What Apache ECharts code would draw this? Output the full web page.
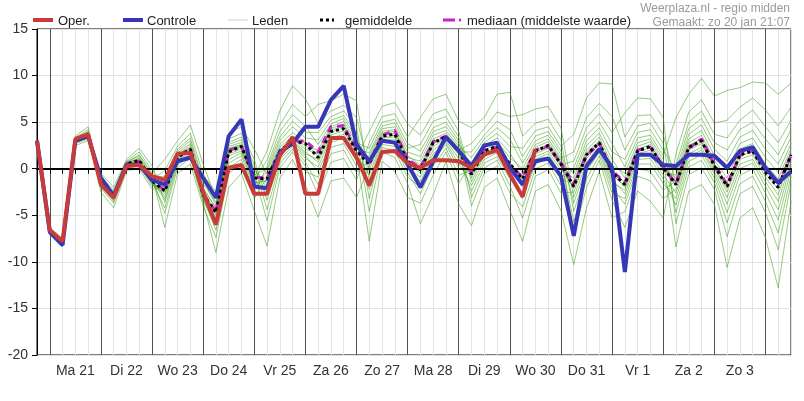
<!DOCTYPE html>
<html><head><meta charset="utf-8">
<script src="https://cdn.jsdelivr.net/npm/echarts@6/dist/echarts.min.js"></script>
<style>html,body{margin:0;padding:0;background:#fff}#c{width:804px;height:401px}</style>
</head><body><div id="c"></div>
<script>
// Day labels (placed at 12:00 of each day)
const dayLabels = ['Ma 21','Di 22','Wo 23','Do 24','Vr 25','Za 26','Zo 27','Ma 28','Di 29','Wo 30','Do 31','Vr 1','Za 2','Zo 3','Ma 4'];
const hourSteps = ['00:00','06:00','12:00','18:00'];
const firstStep = 'Zo 20 18:00';
const nSteps = 60;

// Operationele run (tot Wo 30 12:00)
const oper = [3.0,-6.6,-7.8,3.2,3.7, -1.7,-3.1,0.3,0.4,-0.8, -1.2,1.6,1.7,-2.5, -6.0,0.1,0.4,-2.7, -2.7,1.4,3.4,-2.7, -2.7,3.3,3.3,1.2, -1.8,1.8,1.9,0.6, 0.1,0.9,0.9,0.8, 0.1,1.5,2.0,-0.6, -3.0,2.1];
// Controle run
const controle = [3.0,-6.8,-8.2,3.0,3.5, -1.0,-2.9,0.4,0.4,-1.2, -1.7,0.8,1.2,-1.0, -3.1,3.5,5.3,-1.9, -2.1,1.8,2.7,4.5, 4.5,7.4,8.9,2.6, 0.8,3.0,2.8,0.5, -2.0,0.8,3.4,1.9, 0.3,2.5,2.8,0.1, -1.7,0.8,1.1,-0.8, -7.2,0.3,2.1,0.1, -11.1,1.5,1.5,0.4, 0.3,1.5,1.5,1.4,0.1,1.9,2.3,0.1,-1.5,-0.3];
// Gemiddelde
const gemiddelde = [3.0,-6.7,-7.9,3.0,3.6, -1.5,-3.0,0.5,0.9,-1.3, -2.4,1.2,2.1,-2.8, -4.7,1.8,2.4,-1.0, -1.1,1.9,3.0,2.7, 1.2,4.0,4.3,1.9, 0.5,3.5,3.7,0.8, -0.1,2.8,3.4,1.9, -0.6,1.9,2.4,0.5, -1.1,1.9,2.5,0.5, -1.9,1.5,2.8,-0.4, -1.7,1.9,2.4,0.1, -1.7,2.3,3.0,0.3,-1.9,1.5,1.9,-0.4,-2.0,1.5];
// Mediaan
const mediaan = [3.0,-6.7,-7.9,3.0,3.6, -1.5,-3.0,0.5,0.8,-1.3, -2.3,1.3,2.2,-2.7, -4.6,2.0,2.4,-0.9, -1.0,1.8,2.9,3.0, 1.8,4.5,4.6,2.1, 0.6,3.6,4.1,1.0, 0.1,2.9,3.5,2.0, -0.4,2.0,2.3,0.4, -0.9,2.0,2.4,0.6, -1.6,1.4,2.7,-0.2, -1.5,2.0,2.3,0.2, -1.6,2.2,3.2,0.5,-1.7,1.4,2.0,-0.2,-1.7,1.4];

// Ensemble leden
const lid01 = [2.9,-7.0,-8.4,2.5,3.0, -1.5,-3.0,0.5,0.9,-1.3, -3.0,1.0,1.9,-3.0, -5.6,1.0,1.7,-1.8, -0.3,3.0,4.5,3.3, 3.1,5.2,5.7,3.8, -2.2,2.6,2.4,-0.4, -2.7,0.3,2.2,-0.7, -0.1,2.2,2.9,1.2, 0.0,2.6,3.2,1.1, 1.8,5.5,7.0,5.6, 2.0,4.6,4.9,2.7, -4.7,0.2,0.9,-1.5,-5.8,-1.6,-0.8,-3.5,-6.9,-0.8];
const lid02 = [2.9,-6.9,-8.2,2.7,3.2, -1.8,-3.4,0.3,0.6,-1.6, -1.2,1.9,3.0,-1.6, -3.6,2.8,3.4,0.5, -4.4,0.6,2.1,0.3, -2.8,0.7,1.1,-1.2, 2.8,5.6,5.9,3.4, 5.5,7.5,8.0,5.1, 4.4,5.5,8.0,8.2, 3.5,4.9,5.3,3.1, -4.6,-0.3,1.8,-2.0, -3.8,0.0,-0.3,-2.3, -1.3,2.8,3.6,0.9,-1.0,2.1,2.7,0.5,-1.1,2.2];
const lid03 = [3.0,-6.8,-8.1,2.8,3.3, -1.2,-2.6,0.7,1.4,-0.7, -6.3,-0.5,0.5,-4.0, -7.4,-0.5,0.6,-3.2, -1.0,2.0,3.2,2.1, 1.6,4.3,4.8,2.4, 1.1,4.0,4.2,1.4, 0.4,3.2,3.8,2.2, -4.0,-0.5,0.3,-2.6, -4.1,0.0,0.6,-1.8, 0.1,3.6,5.0,2.7, 0.2,3.3,3.6,1.4, 5.5,8.0,9.7,7.8,8.4,8.7,9.3,9.2,8.0,9.2];
const lid04 = [3.0,-6.8,-8.1,2.8,3.4, -2.5,-4.2,-0.2,0.0,-2.2, -2.1,1.4,2.3,-2.5, -4.6,2.0,2.4,-0.9, 1.9,6.2,8.9,7.5, 4.9,6.2,6.8,5.5, -0.1,3.3,3.4,0.5, -0.2,2.7,3.3,1.8, 1.8,3.6,5.1,4.2, 1.3,3.5,4.0,1.9, -3.7,0.2,2.1,-1.5, -2.3,1.3,1.6,-0.7, -2.6,1.6,2.3,-0.3,-3.1,0.5,1.0,-1.4,-3.5,0.8];
const lid05 = [3.0,-6.8,-8.0,2.9,3.5, -1.4,-2.9,0.5,1.0,-1.2, -0.2,2.4,3.8,-0.6, -2.5,3.8,4.5,2.1, -0.6,2.6,3.9,2.8, 1.3,4.1,4.6,2.1, 1.7,4.6,4.9,2.2, 2.6,5.1,5.6,3.4, -1.4,1.4,1.9,-0.2, -1.6,1.6,2.2,0.2, -2.1,1.4,2.7,-0.5, -2.0,1.6,2.0,-0.3, -0.7,3.7,4.7,2.1,0.8,3.4,4.1,2.1,0.5,3.4];
const lid06 = [3.0,-6.7,-8.0,2.9,3.5, -0.5,-2.0,1.0,2.2,0.3, -3.6,0.6,1.6,-3.2, -6.6,0.1,1.0,-2.6, 0.3,4.0,5.8,4.6, 2.6,4.8,5.4,3.3, -4.6,1.8,1.2,-1.6, -5.9,-2.8,0.8,-3.8, -6.1,-2.0,-1.0,-4.5, -7.8,-2.4,-1.7,-4.5, -10.3,-4.2,-0.3,-5.3, -4.6,-0.8,-1.3,-3.2, -2.2,2.0,2.7,0.0,-2.5,1.0,1.5,-0.9,-2.8,1.2];
const lid07 = [3.0,-6.7,-7.9,3.0,3.6, -1.6,-3.2,0.4,0.8,-1.4, -2.5,1.2,2.1,-2.8, -5.0,1.6,2.1,-1.2, -2.7,1.3,2.6,1.1, 0.2,3.3,3.7,1.2, 4.0,6.7,7.1,4.8, 3.6,5.9,6.4,4.0, -1.0,1.6,2.2,0.2, -2.0,1.3,1.9,-0.2, -1.0,2.5,3.8,1.0, -1.0,2.4,2.9,0.6, 0.4,5.0,6.2,3.7,3.3,5.2,6.3,4.5,2.8,5.2];
const lid08 = [3.0,-6.7,-7.9,3.0,3.6, -2.1,-3.7,0.1,0.3,-1.9, -1.9,1.5,2.5,-2.3, -4.1,2.4,2.8,-0.2, -1.6,1.7,2.9,1.6, 1.0,3.9,4.4,1.8, -7.8,0.8,-0.3,-3.1, -3.7,-0.7,1.8,-1.6, 0.7,2.8,3.8,2.4, 2.2,4.1,4.5,2.4, 3.7,7.6,9.2,9.1, 3.4,5.7,5.8,3.7, -1.6,2.5,3.2,0.5,-1.6,1.7,2.2,-0.1,-1.7,1.7];
const lid09 = [3.0,-6.7,-7.9,3.0,3.6, -1.3,-2.8,0.6,1.1,-1.0, -4.8,0.1,1.1,-3.6, -9.0,-2.0,-0.5,-4.5, -8.3,-1.0,1.0,-1.7, -5.2,-1.3,-1.0,-3.1, 0.3,3.4,3.6,0.7, -0.5,2.4,3.2,1.5, -2.4,0.6,1.3,-1.1, -2.6,1.0,1.6,-0.6, -1.4,2.0,3.4,0.4, -0.5,2.8,3.2,1.0, -8.4,-2.4,-1.7,-3.8,-10.6,-5.3,-4.2,-7.4,-12.8,-3.5];
const lid10 = [3.0,-6.7,-7.9,3.0,3.7, -1.0,-2.5,0.7,1.5,-0.5, 1.0,3.0,4.7,0.5, -3.2,3.2,3.8,1.0, -3.4,1.0,2.4,0.7, -1.7,1.6,2.0,-0.4, 0.8,3.8,4.0,1.2, 0.8,3.6,4.1,2.4, 1.2,3.2,4.4,3.2, 0.6,3.0,3.6,1.5, -7.1,-2.0,0.9,-3.4, -6.3,-2.4,-3.5,-5.3, 1.6,6.1,7.4,4.9,5.2,6.6,7.6,6.3,4.6,6.6];
const lid11 = [3.0,-6.6,-7.8,3.1,3.7, -1.9,-3.5,0.2,0.5,-1.7, -2.7,1.1,2.0,-2.9, -4.8,1.8,2.3,-1.1, 0.9,4.7,6.9,5.6, 6.9,7.3,8.0,7.3, -1.3,2.9,2.8,0.0, -0.9,2.0,3.0,1.1, -0.4,2.0,2.6,0.7, -1.2,1.8,2.4,0.4, 0.8,4.4,5.9,3.9, 6.0,7.6,7.5,5.5, -5.9,-0.6,0.1,-2.2,-7.3,-2.7,-1.9,-4.7,-8.7,-1.6];
const lid12 = [3.0,-6.6,-7.8,3.1,3.8, -1.6,-3.1,0.4,0.8,-1.4, -4.2,0.4,1.4,-3.4, -6.1,0.6,1.4,-2.1, -0.8,2.3,3.5,2.4, 2.0,4.5,5.1,2.8, 2.2,5.0,5.3,2.7, 1.9,4.4,5.0,3.0, -3.1,0.1,0.9,-1.8, -5.3,-0.8,-0.1,-2.6, -2.5,1.1,2.6,-0.7, -1.8,1.8,2.3,0.0, -1.0,3.2,4.1,1.4,-0.2,2.7,3.3,1.2,-0.4,2.7];
const lid13 = [3.0,-6.6,-7.8,3.2,3.9, -0.8,-2.3,0.8,1.8,-0.2, -1.6,1.7,2.7,-2.0, -4.3,2.2,2.6,-0.5, -5.6,0.1,1.8,-0.3, -0.9,2.3,2.7,0.3, 0.6,3.6,3.8,0.9, 0.1,2.9,3.5,2.0, 2.7,4.3,6.1,5.6, 5.8,6.4,6.7,4.4, -3.1,0.7,2.4,-1.1, -2.7,1.0,1.1,-1.1, -3.9,0.8,1.5,-1.0,-4.7,-0.7,0.0,-2.6,-5.5,-0.1];
const lid14 = [3.0,-6.5,-7.7,3.2,4.0, -1.7,-3.3,0.3,0.7,-1.5, -2.3,1.3,2.2,-2.7, -4.5,2.1,2.5,-0.7, 0.0,3.4,5.1,3.9, 3.9,5.6,6.2,4.5, -3.2,2.3,1.9,-0.9, -2.0,1.0,2.6,0.1, -0.7,1.8,2.3,0.4, -0.9,2.0,2.6,0.6, -0.5,3.0,4.4,1.8, 1.0,3.9,4.2,2.0, -0.2,4.3,5.4,2.8,2.0,4.2,5.0,3.2,1.5,4.2];
const lid15 = [3.1,-6.4,-7.6,3.3,4.2, -1.3,-2.7,0.6,1.2,-0.9, -0.8,2.1,3.3,-1.2, -3.9,2.6,3.1,0.1, -2.1,1.5,2.7,1.4, -0.3,2.8,3.3,0.8, 1.4,4.3,4.5,1.8, 1.3,4.0,4.5,2.7, 0.2,2.5,3.3,1.7, -0.5,2.3,2.9,0.9, -5.7,-1.1,1.4,-2.6, -3.2,0.5,0.5,-1.6, -3.2,1.3,2.0,-0.6,-3.8,0.0,0.6,-1.9,-4.4,0.4];
const lid16 = [3.1,-6.3,-7.5,3.5,4.5, -1.5,-3.0,0.5,0.9,-1.3, -3.3,0.8,1.8,-3.1, -5.3,1.4,1.9,-1.5, -1.3,1.8,3.0,1.8, 0.7,3.6,4.1,1.5, -0.7,3.1,3.1,0.3, -1.4,1.6,2.8,0.6, -1.8,1.0,1.7,-0.6, -3.2,0.5,1.2,-1.1, -1.7,1.7,3.0,-0.1, -1.5,2.1,2.6,0.3, -1.8,2.2,2.9,0.2,-2.1,1.4,1.8,-0.5,-2.2,1.4];
const leden = [lid01,lid02,lid03,lid04,lid05,lid06,lid07,lid08,lid09,lid10,lid11,lid12,lid13,lid14,lid15,lid16];

const yTicks = {min: -20, max: 15, step: 5};
const legendNames = ['Oper.', 'Controle', 'Leden', 'gemiddelde', 'mediaan (middelste waarde)'];
const headerLines = ['Weerplaza.nl - regio midden', 'Gemaakt: zo 20 jan 21:07'];

// build category list (6-hourly steps)
const categories = [firstStep];
dayLabels.forEach(d => hourSteps.forEach(h => categories.push(d + ' ' + h)));
categories.length = nSteps;

const FONT = '"Liberation Sans", Arial, sans-serif';
const C_OPER = '#c93a3a', C_CTRL = '#3636b8', C_LID = 'rgba(65,160,28,0.55)', C_MEAN = '#000000', C_MED = '#cc22cc';

const series = [];
leden.forEach(arr => series.push({
  name: 'Leden', type: 'line', data: arr, symbol: 'none', z: 1, silent: true,
  lineStyle: {color: C_LID, width: 1}, itemStyle: {color: C_LID}
}));
series.push({
  name: 'nul', type: 'line', data: [], z: 2, silent: true,
  markLine: {silent: true, symbol: 'none', label: {show: false}, animation: false,
    lineStyle: {color: '#000', width: 2, type: 'solid'}, data: [{yAxis: 0}]}
});
series.push({name: legendNames[4], type: 'line', data: mediaan, symbol: 'none', z: 3,
  lineStyle: {color: C_MED, width: 3, type: [7, 5]}, itemStyle: {color: C_MED}});
series.push({name: legendNames[3], type: 'line', data: gemiddelde, symbol: 'none', z: 4,
  lineStyle: {color: C_MEAN, width: 3, type: [3, 3]}, itemStyle: {color: C_MEAN}});
series.push({name: legendNames[1], type: 'line', data: controle, symbol: 'none', z: 5,
  lineStyle: {color: C_CTRL, width: 4}, itemStyle: {color: C_CTRL}});
series.push({name: legendNames[0], type: 'line', data: oper, symbol: 'none', z: 6,
  lineStyle: {color: C_OPER, width: 4}, itemStyle: {color: C_OPER}});

// hand-made legend (line samples + labels)
const legendIconX = [33, 123, 228, 320, 443];
const legendTextX = [58, 147, 252, 345, 467];
const legendStyles = [
  {stroke: C_OPER, lineWidth: 4},
  {stroke: C_CTRL, lineWidth: 4},
  {stroke: 'rgba(60,160,30,0.35)', lineWidth: 1},
  {stroke: '#000', lineWidth: 3, lineDash: [3, 3]},
  {stroke: C_MED, lineWidth: 3, lineDash: [12, 4, 2, 30]}
];
const legendY = 20;
const graphics = [];
legendNames.forEach((n, k) => {
  graphics.push({type: 'line', silent: true, shape: {x1: legendIconX[k], y1: legendY, x2: legendIconX[k] + (k === 3 ? 14 : 20), y2: legendY},
    style: legendStyles[k]});
  graphics.push({type: 'text', silent: true, x: legendTextX[k], y: legendY + 1,
    style: {text: n, fill: '#222', font: '13px ' + FONT, verticalAlign: 'middle', align: 'left'}});
});
headerLines.forEach((t, k) => graphics.push({type: 'text', silent: true, x: 790, y: 9 + 14 * k,
  style: {text: t, fill: '#9a9a9a', font: '12px ' + FONT, align: 'right', verticalAlign: 'middle'}}));

const chart = echarts.init(document.getElementById('c'), null, {renderer: 'canvas'});
chart.setOption({
  animation: false,
  backgroundColor: '#fff',
  textStyle: {fontFamily: FONT},
  graphic: graphics,
  grid: {left: 37, right: 13, top: 29, bottom: 46, show: true, borderColor: '#000', borderWidth: 1, backgroundColor: 'transparent'},
  xAxis: [
    {
      type: 'category', data: categories, boundaryGap: false, position: 'bottom',
      axisLine: {show: true, lineStyle: {color: '#000', width: 2}},
      axisTick: {show: true, interval: 0, length: 5, lineStyle: {color: '#000', width: 1}},
      splitLine: {show: true, interval: 0, lineStyle: {color: '#e2e2e2', width: 1}},
      axisLabel: {
        interval: (i) => i % 4 === 3 && i < nSteps - 1,
        formatter: (v) => v.split(' ').slice(0, 2).join(' '),
        fontSize: 14, color: '#333', margin: 9, fontFamily: FONT
      }
    },
    {
      type: 'category', data: categories, boundaryGap: false, position: 'top',
      axisLine: {show: false}, axisTick: {show: false}, axisLabel: {show: false},
      splitLine: {show: true, interval: (i) => i % 4 === 1, lineStyle: {color: '#505050', width: 1}}
    }
  ],
  yAxis: {
    type: 'value', min: yTicks.min, max: yTicks.max, interval: yTicks.step,
    axisLine: {show: true, lineStyle: {color: '#000', width: 1}},
    axisTick: {show: true, length: 5, lineStyle: {color: '#000'}},
    splitLine: {show: true, lineStyle: {color: '#e2e2e2', width: 1}},
    axisLabel: {fontSize: 14, color: '#333', margin: 9, fontFamily: FONT}
  },
  series: series
});
</script>
</body></html>
